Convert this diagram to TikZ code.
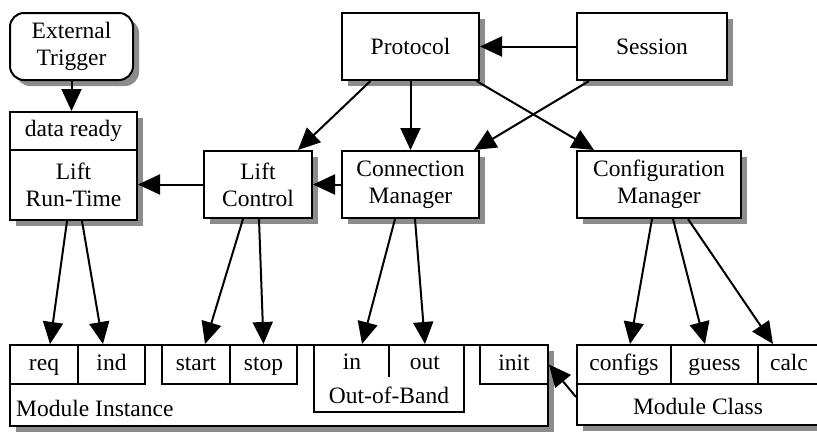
\documentclass[tikz,border=0pt]{standalone}
\usepackage{fontspec}
\setmainfont{Liberation Serif}
\usetikzlibrary{calc}
\usetikzlibrary{arrows.meta}
\usetikzlibrary{shadows}
\tikzset{x=1pt, y=-1pt, % One unit per pixel, y grows downwards
  every node/.style={align=center,
    inner sep=0pt,
    font=\fontsize{23.5}{27}\selectfont},
  block/.style={ % Boxes with the grey drop shadow
    draw, fill=white, line width=2pt,
    drop shadow={shadow xshift=6pt, shadow yshift=-6pt, fill=black!45, opacity=1}},
  trigger/.style={block, rounded corners=14pt},
  port/.style={ % Small boxes inside the modules
    draw, fill=white, line width=2pt,
    text height=16pt, text depth=5pt},
  caption/.style={text height=16pt, text depth=5pt},
  link/.style={ % Arrows between the boxes
    draw, line width=2pt,
    -{Triangle[length=22pt,width=20pt]}}}

\begin{document}
\begin{tikzpicture}
  \path[use as bounding box, clip] (0,0) rectangle (817,432);

  \node [trigger, minimum width=123pt, minimum height=67pt] (trig) at (71.5,46.5) {External\\Trigger};
  \node [block, minimum width=127pt, minimum height=38pt, caption] (ready) at (73.5,131) {data ready};
  \node [block, minimum width=127pt, minimum height=70pt] (runtime) at (73.5,185) {Lift\\Run-Time};
  \node [block, minimum width=108pt, minimum height=67pt] (ctrl) at (258,184.5) {Lift\\Control};
  \node [block, minimum width=137pt, minimum height=67pt] (conn) at (410.5,184.5) {Connection\\Manager};
  \node [block, minimum width=137pt, minimum height=67pt] (proto) at (410.5,46.5) {Protocol};
  \node [block, minimum width=150pt, minimum height=67pt] (sess) at (652,46.5) {Session};
  \node [block, minimum width=164pt, minimum height=67pt] (cfg) at (659,184.5) {Configuration\\Manager};

  % module instance
  \node [block, minimum width=538pt, minimum height=81pt] (inst) at (279,385.5) {};
  \node [caption, anchor=west] (instname) at ($(inst.south west)+(7,-16)$) {Module Instance};
  \node [port, minimum width=68pt, minimum height=39pt] (req) at (44,364.5) {req};
  \node [port, minimum width=67pt, minimum height=39pt] (ind) at (111.5,364.5) {ind};
  \node [port, minimum width=68pt, minimum height=39pt] (start) at (196,364.5) {start};
  \node [port, minimum width=67pt, minimum height=39pt] (stop) at (263.5,364.5) {stop};
  \node [port, minimum width=150pt, minimum height=67pt] (oob) at (389,378.5) {};
  \draw [line width=2pt] (oob.north) -- ++(0,33);
  \node [caption] (in) at (352,364) {in};
  \node [caption] (out) at (425,364) {out};
  \node [caption] (oobname) at (389,398) {Out-of-Band};
  \node [port, minimum width=68pt, minimum height=39pt] (init) at (514,364.5) {init};

  % module class
  \node [block, minimum width=243pt, minimum height=80pt] (cls) at (698.5,385) {};
  \node [caption] (clsname) at (698,409) {Module Class};
  \node [port, minimum width=94pt, minimum height=39pt] (configs) at (624,364.5) {configs};
  \node [port, minimum width=87pt, minimum height=39pt] (guess) at (714.5,364.5) {guess};
  \node [port, minimum width=62pt, minimum height=39pt] (calc) at (789,364.5) {calc};

  \draw [link] (trig.south) -- (trig.south |- ready.north);
  \draw [link] (sess) -- (proto);
  \draw [link] ([xshift=13pt]sess.south west) -- ([xshift=-6pt]conn.north east);
  \draw [link] ([xshift=-40pt]proto.south) -- ([xshift=-15pt]ctrl.north east);
  \draw [link] (proto) -- (conn);
  \draw [link] ([xshift=66pt]proto.south) -- ([xshift=18pt]cfg.north west);
  \draw [link] (conn) -- (ctrl);
  \draw [link] (ctrl.west) -- (ctrl.west -| runtime.east);

  \draw [link] ([xshift=-6.5pt]runtime.south) -- ([xshift=6pt]req.north);
  \draw [link] ([xshift=8.5pt]runtime.south) -- ([xshift=-8.5pt]ind.north);
  \draw [link] ([xshift=-15pt]ctrl.south) -- ([xshift=9pt]start.north);
  \draw [link] ([xshift=1pt]ctrl.south) -- (stop.north);
  \draw [link] ([xshift=-15.5pt]conn.south) -- ([xshift=-27pt]oob.north);
  \draw [link] ([xshift=4.5pt]conn.south) -- ([xshift=36pt]oob.north);
  \draw [link] ([xshift=-7pt]cfg.south) -- ([xshift=6pt]configs.north);
  \draw [link] ([xshift=14pt]cfg.south) -- ([xshift=-9.5pt]guess.north);
  \draw [link] ([xshift=29pt]cfg.south) -- ([xshift=-16pt]calc.north);
  \draw [link] ([yshift=-12pt]cls.west) -- (init.east);
\end{tikzpicture}
\end{document}
